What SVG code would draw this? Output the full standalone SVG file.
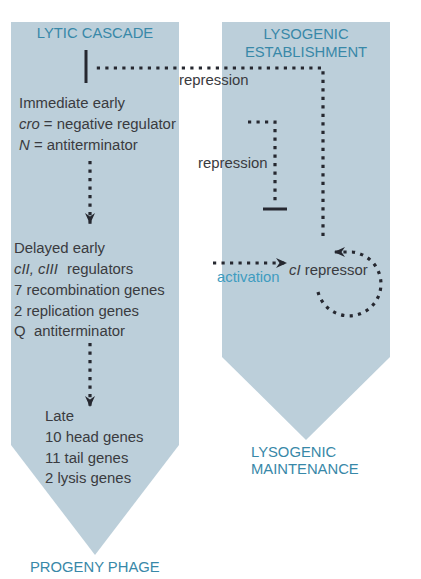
<svg xmlns="http://www.w3.org/2000/svg" width="421" height="579" viewBox="0 0 421 579">
<style>
.panel{fill:#bccfda}
.head{font-family:"Liberation Sans",Arial,sans-serif;font-size:14.8px;fill:#3888a8}
.txt{font-family:"Liberation Sans",Arial,sans-serif;font-size:14.9px;fill:#3a3b40}
.act{font-family:"Liberation Sans",Arial,sans-serif;font-size:14.8px;fill:#3f9cc0}
.it{font-style:italic}
.dot{fill:none;stroke:#262830;stroke-width:3.2;stroke-dasharray:3.2 5.3}
.bar{fill:#262830}
</style>
<defs>
<marker id="ah" markerUnits="userSpaceOnUse" markerWidth="12" markerHeight="10" refX="11" refY="5" orient="auto">
<path d="M0,0 L11,5 L0,10 L3.5,5 z" fill="#262830"/>
</marker>
</defs>
<rect width="421" height="579" fill="#ffffff"/>
<g id="lytic">
<polygon class="panel" points="11,22 179,22 179,445 95,555 11,445"/>
<text class="head" x="95" y="38" text-anchor="middle">LYTIC CASCADE</text>
</g>
<g id="lysogenic">
<polygon class="panel" points="222,22 390,22 390,357 306,440 222,357"/>
<text class="head" x="306" y="39" text-anchor="middle">LYSOGENIC</text>
<text class="head" x="306" y="57" text-anchor="middle">ESTABLISHMENT</text>
</g>
<g id="immediate-early">
<text class="txt" x="19" y="108">Immediate early</text>
<text class="txt" x="19" y="129"><tspan class="it">cro</tspan> = negative regulator</text>
<text class="txt" x="19" y="150"><tspan class="it">N</tspan> = antiterminator</text>
</g>
<g id="delayed-early">
<text class="txt" x="14" y="253">Delayed early</text>
<text class="txt" x="14" y="274"><tspan class="it">cII, cIII</tspan><tspan x="67">regulators</tspan></text>
<text class="txt" x="14" y="295">7 recombination genes</text>
<text class="txt" x="14" y="316">2 replication genes</text>
<text class="txt" x="14" y="336">Q<tspan x="34">antiterminator</tspan></text>
</g>
<g id="late">
<text class="txt" x="45" y="421">Late</text>
<text class="txt" x="45" y="442">10 head genes</text>
<text class="txt" x="45" y="463">11 tail genes</text>
<text class="txt" x="45" y="483">2 lysis genes</text>
</g>
<g id="progeny">
<text class="head" x="30" y="572">PROGENY PHAGE</text>
</g>
<g id="maintenance">
<text class="head" x="251" y="457">LYSOGENIC</text>
<text class="head" x="251" y="474">MAINTENANCE</text>
</g>
<g id="ci-repressor">
<text class="txt" x="289" y="275"><tspan class="it">cI</tspan> repressor</text>
</g>
<g id="connectors">
<path class="dot" d="M323 236 V68 H93"/>
<rect class="bar" x="84.5" y="50" width="3" height="33"/>
<text class="txt" x="179" y="85">repression</text>
<path class="dot" d="M248 122 H275 V205"/>
<rect class="bar" x="263" y="207.5" width="24" height="3"/>
<text class="txt" x="198" y="168">repression</text>
<path class="dot" d="M213 263 H287" marker-end="url(#ah)"/>
<text class="act" x="217" y="282">activation</text>
<path class="dot" d="M90 161 V224" marker-end="url(#ah)"/>
<path class="dot" d="M90 343 V407" marker-end="url(#ah)"/>
<path class="dot" d="M318 292 A32 32 0 1 0 352 252 L334 252" marker-end="url(#ah)"/>
</g>
</svg>
